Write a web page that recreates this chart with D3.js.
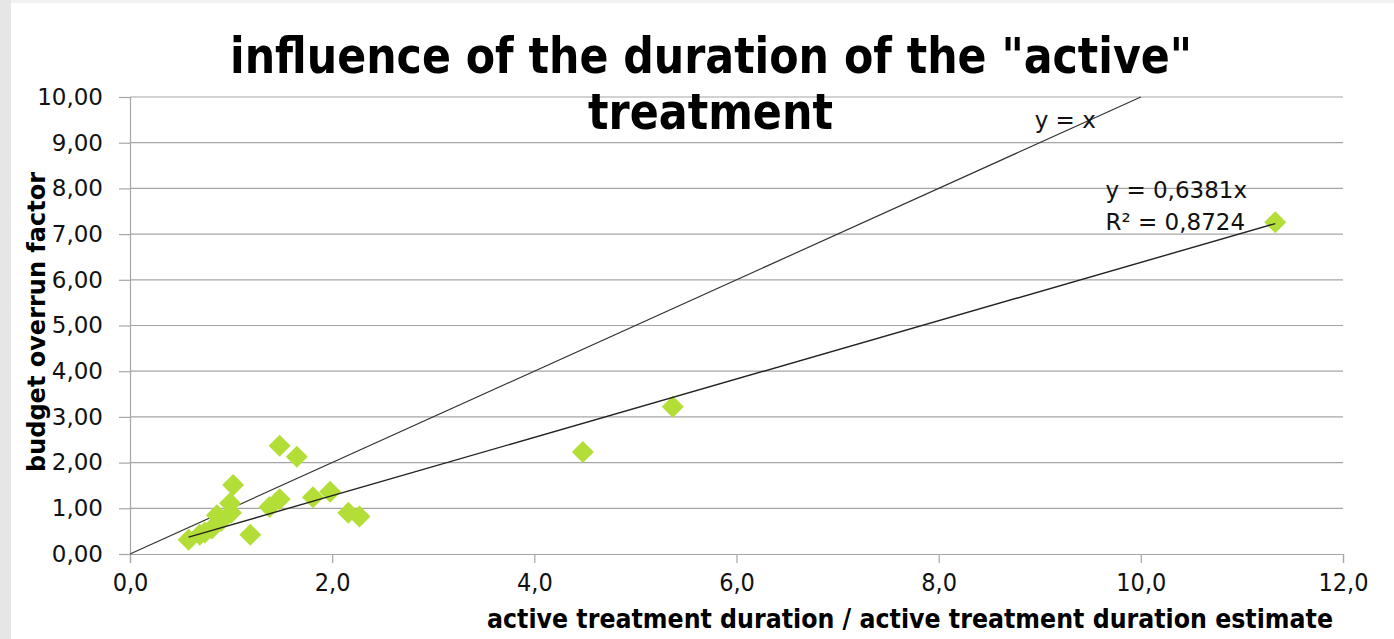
<!DOCTYPE html>
<html>
<head>
<meta charset="utf-8">
<script src="https://cdn.jsdelivr.net/npm/d3@7"></script>
<style>
  body { margin: 0; background: #fff; }
  svg { display: block; }
</style>
</head>
<body>
<div id="chart"></div>
<script>
// measured points: duration ratio vs budget overrun factor
const ratioValues = [0.58, 0.69, 0.74, 0.81, 0.86, 0.90, 0.99, 1.00, 1.02, 1.19, 1.38, 1.48, 1.48, 1.65, 1.81, 1.98, 2.16, 2.27, 4.48, 5.37, 11.33];
const overrunValues = [0.31, 0.42, 0.47, 0.56, 0.85, 0.72, 1.11, 0.90, 1.51, 0.42, 1.03, 1.20, 2.37, 2.13, 1.24, 1.36, 0.90, 0.82, 2.23, 3.22, 7.26];
const xTicks = [0, 2, 4, 6, 8, 10, 12];
const yTicks = [0, 1, 2, 3, 4, 5, 6, 7, 8, 9, 10];
const trendSlope = 0.6381;
const rSquared = '0,8724';
const titleLines = ['influence of the duration of the "active"', 'treatment'];

const points = ratioValues.map((r, i) => ({ x: r, y: overrunValues[i] }));

const W = 1394, H = 639;
const margin = { top: 97, right: 51, bottom: 85, left: 130 };
const width = W - margin.left - margin.right;
const height = H - margin.top - margin.bottom;

const svg = d3.select('#chart').append('svg')
  .attr('width', W)
  .attr('height', H);

// slide frame strips
svg.append('rect').attr('x', 0).attr('y', 0).attr('width', W).attr('height', 3).attr('fill', '#f2f2f2');
svg.append('rect').attr('x', 0).attr('y', 0).attr('width', 11).attr('height', H).attr('fill', '#e6e6e6');

const g = svg.append('g').attr('transform', `translate(${margin.left},${margin.top})`);

const x = d3.scaleLinear().domain([0, 12]).range([0, width]);
const y = d3.scaleLinear().domain([0, 10]).range([height, 0]);

const fmtX = v => d3.format('.1f')(v).replace('.', ',');
const fmtY = v => d3.format('.2f')(v).replace('.', ',');

// horizontal gridlines
g.selectAll('.grid')
  .data(yTicks.filter(d => d > 0))
  .enter().append('line')
  .attr('class', 'grid')
  .attr('x1', 0).attr('x2', width)
  .attr('y1', d => y(d)).attr('y2', d => y(d))
  .attr('stroke', '#a6a6a6')
  .attr('stroke-width', 1.2);

// y axis
const yAxis = g.append('g')
  .call(d3.axisLeft(y).tickValues(yTicks).tickFormat(fmtY).tickSize(11).tickPadding(16));
yAxis.select('.domain').attr('stroke', '#a6a6a6').attr('stroke-width', 1.2);
yAxis.selectAll('.tick line').attr('stroke', '#a6a6a6').attr('stroke-width', 1.2);
yAxis.selectAll('.tick text')
  .attr('font-family', 'DejaVu Sans, Verdana, sans-serif')
  .attr('font-size', 23)
  .attr('fill', '#111');

// x axis
const xAxis = g.append('g')
  .attr('transform', `translate(0,${height})`)
  .call(d3.axisBottom(x).tickValues(xTicks).tickFormat(fmtX).tickSize(9).tickPadding(10));
xAxis.select('.domain').attr('stroke', '#a6a6a6').attr('stroke-width', 1.2);
xAxis.selectAll('.tick line').attr('stroke', '#a6a6a6').attr('stroke-width', 1.2);
xAxis.selectAll('.tick text')
  .attr('font-family', 'DejaVu Sans Condensed, DejaVu Sans, sans-serif')
  .attr('font-size', 25)
  .attr('fill', '#111');

// y = x reference line (clipped at top of plot)
g.append('line')
  .attr('x1', x(0)).attr('y1', y(0))
  .attr('x2', x(10)).attr('y2', y(10))
  .attr('stroke', '#333')
  .attr('stroke-width', 1.2);

// markers
const s = 11;
g.selectAll('.dot')
  .data(points)
  .enter().append('path')
  .attr('class', 'dot')
  .attr('d', d => {
    const cx = x(d.x), cy = y(d.y);
    return `M${cx},${cy - s}L${cx + s},${cy}L${cx},${cy + s}L${cx - s},${cy}Z`;
  })
  .attr('fill', '#b3de38');

// linear trendline through origin, over the data range
const xMin = d3.min(ratioValues), xMax = d3.max(ratioValues);
g.append('line')
  .attr('x1', x(xMin)).attr('y1', y(trendSlope * xMin))
  .attr('x2', x(xMax)).attr('y2', y(trendSlope * xMax))
  .attr('stroke', '#222')
  .attr('stroke-width', 1.4);

// equation labels
const eqFont = 'DejaVu Sans, Verdana, sans-serif';
g.append('text')
  .attr('x', x(8.95)).attr('y', y(9.32))
  .attr('font-family', eqFont).attr('font-size', 23).attr('fill', '#111')
  .text('y = x');
g.append('text')
  .attr('x', x(9.65)).attr('y', y(7.79))
  .attr('font-family', eqFont).attr('font-size', 23).attr('fill', '#111')
  .text('y = ' + String(trendSlope).replace('.', ',') + 'x');
g.append('text')
  .attr('x', x(9.65)).attr('y', y(7.09))
  .attr('font-family', eqFont).attr('font-size', 23).attr('fill', '#111')
  .text('R² = ' + rSquared);

// title
const titleFont = 'DejaVu Sans Condensed, DejaVu Sans, sans-serif';
svg.append('text')
  .attr('x', 230).attr('y', 73)
  .attr('font-family', titleFont).attr('font-weight', 'bold').attr('font-size', 50)
  .attr('textLength', 962).attr('lengthAdjust', 'spacingAndGlyphs')
  .attr('fill', '#000')
  .text(titleLines[0]);
svg.append('text')
  .attr('x', 588).attr('y', 129)
  .attr('font-family', titleFont).attr('font-weight', 'bold').attr('font-size', 50)
  .attr('textLength', 245).attr('lengthAdjust', 'spacingAndGlyphs')
  .attr('fill', '#000')
  .text(titleLines[1]);

// axis titles
svg.append('text')
  .attr('transform', `translate(45,${322}) rotate(-90)`)
  .attr('text-anchor', 'middle')
  .attr('font-family', 'DejaVu Sans, Verdana, sans-serif')
  .attr('font-weight', 'bold').attr('font-size', 24)
  .attr('fill', '#000')
  .text('budget overrun factor');

svg.append('text')
  .attr('x', 1333).attr('y', 628)
  .attr('text-anchor', 'end')
  .attr('font-family', 'DejaVu Sans Condensed, DejaVu Sans, sans-serif')
  .attr('font-weight', 'bold').attr('font-size', 26)
  .attr('textLength', 846).attr('lengthAdjust', 'spacingAndGlyphs')
  .attr('fill', '#000')
  .text('active treatment duration  / active treatment duration estimate');
</script>
</body>
</html>
